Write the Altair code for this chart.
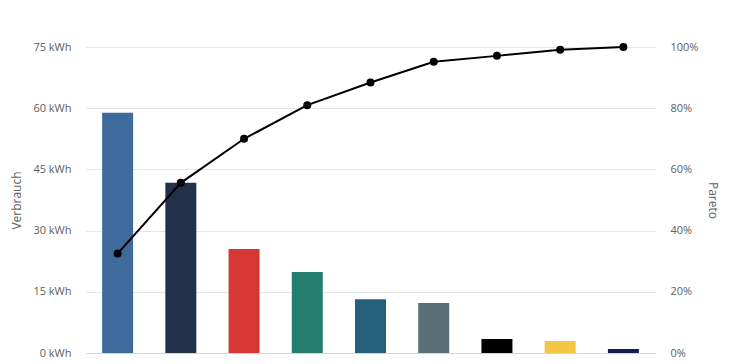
import altair as alt
import pandas as pd

categories = ["Verbraucher 1", "Verbraucher 2", "Verbraucher 3", "Verbraucher 4",
              "Verbraucher 5", "Verbraucher 6", "Verbraucher 7", "Verbraucher 8",
              "Verbraucher 9"]
verbrauch = [58.9, 41.7, 25.5, 19.85, 13.2, 12.25, 3.43, 2.94, 0.98]
pareto = [32.5, 55.6, 70.0, 81.0, 88.4, 95.2, 97.1, 99.1, 100.0]
bar_colors = ["#3e6a9c", "#21314a", "#d53834", "#257f6d", "#245f7c",
              "#5b6f76", "#000000", "#f7c545", "#0c1f4e"]

df = pd.DataFrame({"kategorie": categories, "verbrauch": verbrauch,
                   "pareto": pareto, "farbe": bar_colors})

FONT = "Open Sans"
GREY = "#5e5e5e"

x = alt.X("kategorie:N", sort=categories,
          scale=alt.Scale(paddingInner=0.51, paddingOuter=0.255),
          axis=alt.Axis(title=None, labels=False, ticks=False,
                        domain=True, domainColor="#ccd6eb", domainWidth=1,
                        grid=False))

bars = alt.Chart(df).mark_bar().encode(
    x=x,
    y=alt.Y("verbrauch:Q",
            scale=alt.Scale(domain=[0, 75], nice=False, zero=True),
            axis=alt.Axis(title="Verbrauch", values=[0, 15, 30, 45, 60, 75],
                          labelExpr="datum.value + ' kWh'",
                          grid=True, gridColor="#e6e6e6", gridWidth=1,
                          domain=False, ticks=False, labelPadding=15,
                          labelFont=FONT, labelFontSize=11, labelColor=GREY,
                          titleFont=FONT, titleFontSize=12, titleFontWeight="normal",
                          titleColor=GREY, titlePadding=9)),
    color=alt.Color("farbe:N", scale=None),
)

line_base = alt.Chart(df).encode(
    x=x,
    y=alt.Y("pareto:Q",
            scale=alt.Scale(domain=[0, 100], nice=False, zero=True),
            axis=alt.Axis(title="Pareto", orient="right",
                          values=[0, 20, 40, 60, 80, 100],
                          labelExpr="datum.value + '%'",
                          grid=False, domain=False, ticks=False, labelPadding=15,
                          labelFont=FONT, labelFontSize=11, labelColor=GREY,
                          titleFont=FONT, titleFontSize=12, titleFontWeight="normal",
                          titleColor=GREY, titlePadding=8)),
)

line = line_base.mark_line(color="#000000", strokeWidth=2)
points = line_base.mark_point(filled=True, color="#000000", size=64, opacity=1)

chart = alt.layer(bars, line + points).resolve_scale(y="independent").properties(
    width=569, height=306,
    padding={"left": 78, "top": 39, "right": 72, "bottom": 8},
    autosize=alt.AutoSizeParams(type="none"),
    background="#ffffff",
).configure_view(stroke="transparent", strokeWidth=0)

chart.save("out.html", embed_options={"renderer": "svg", "actions": False})
